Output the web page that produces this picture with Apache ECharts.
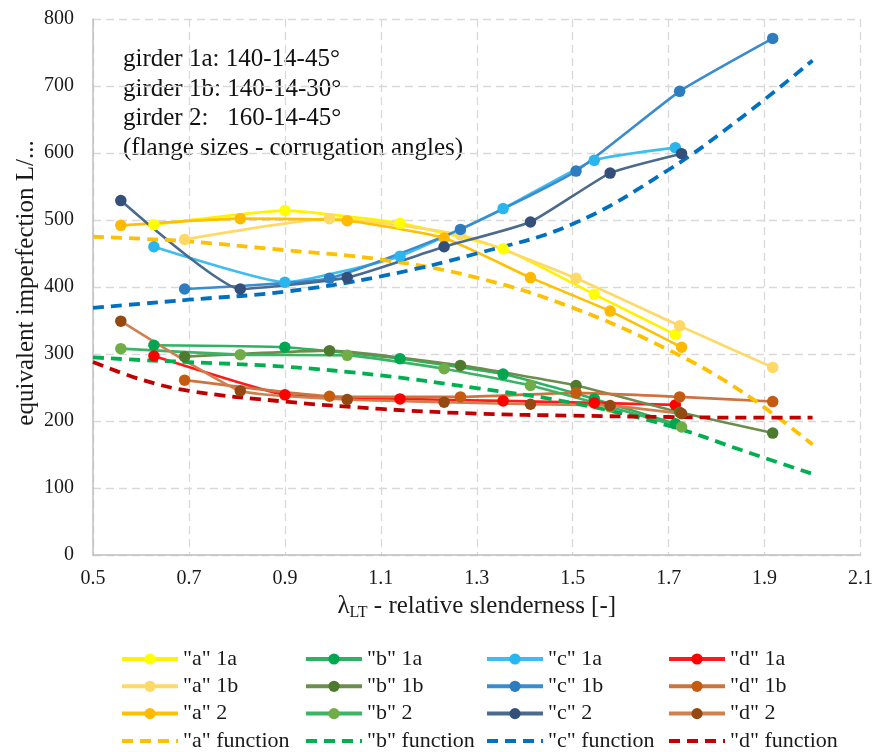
<!DOCTYPE html>
<html><head><meta charset="utf-8">
<script src="https://cdn.jsdelivr.net/npm/echarts@6/dist/echarts.min.js"></script>
<style>html,body{margin:0;padding:0;background:#fff}#c{width:876px;height:752px}</style>
</head><body><div id="c"></div><script>
// x values (relative slenderness) per girder
const x1a = [0.627, 0.900, 1.140, 1.355, 1.545, 1.714];
const x1b = [0.691, 0.993, 1.266, 1.507, 1.723, 1.917];
const x2  = [0.558, 0.807, 1.030, 1.232, 1.412, 1.578, 1.727];
// equivalent imperfection L/... values
const a1a = [493, 514, 495, 457, 389, 329];
const b1a = [313, 310, 293, 270, 233, 196];
const c1a = [460, 407, 446, 517, 589, 608];
const d1a = [297, 239, 233, 230, 227, 224];
const a1b = [471, 502, 478, 413, 342, 280];
const b1b = [296, 305, 283, 253, 213, 182];
const c1b = [397, 413, 486, 573, 692, 771];
const d1b = [261, 237, 236, 242, 236, 229];
const a2  = [492, 502, 499, 473, 414, 364, 310];
const b2  = [308, 299, 298, 278, 253, 221, 191];
const c2  = [529, 397, 414, 460, 497, 570, 599];
const d2  = [349, 245, 232, 228, 225, 223, 211];
// fitted functions
const xf = [0.5, 0.6, 0.7, 0.9, 1.1, 1.3, 1.5, 1.7, 1.85, 2.0];
const aF = [475, 472, 468, 455, 441, 414, 369, 306, 245, 165];
const bF = [295, 291, 288, 281, 268, 249, 227, 193, 157, 121];
const cF = [369, 375, 381, 393, 416, 450, 494, 575, 652, 738];
const dF = [288, 262, 245, 229, 218, 211, 208, 206, 205, 205];
// axis ticks
const xTicks = {min: 0.5, max: 2.1, step: 0.2};
const yTicks = {min: 0, max: 800, step: 100};
const yTitle = 'equivalent imperfection L/...';
const notes = ['girder 1a: 140-14-45°', 'girder 1b: 140-14-30°', 'girder 2:   160-14-45°', '(flange sizes - corrugation angles)'];

const SERIF = '"Liberation Serif", "Times New Roman", serif';
const pair = (xs, ys) => xs.map((x, i) => [x, ys[i]]);

function dataSeries(name, xs, ys, lineColor, markerColor) {
  return {
    name, type: 'line', data: pair(xs, ys), symbol: 'circle', symbolSize: 11.5,
    smooth: 0.15, lineStyle: {color: lineColor, width: 2.6},
    itemStyle: {color: markerColor}, emphasis: {disabled: true}
  };
}
function funcSeries(name, ys, color) {
  return {
    name, type: 'line', data: pair(xf, ys), symbol: 'none', showSymbol: false,
    smooth: 0.4, lineStyle: {color, width: 3.8, type: [11, 7]},
    itemStyle: {color, opacity: 0}, emphasis: {disabled: true}, z: 3
  };
}

const series = [
  dataSeries('"a" 1a', x1a, a1a, '#FFF200', '#FFFF00'),
  dataSeries('"b" 1a', x1a, b1a, '#2DB263', '#00A651'),
  dataSeries('"c" 1a', x1a, c1a, '#3DBDF0', '#29B5EE'),
  dataSeries('"d" 1a', x1a, d1a, '#FF1A1A', '#FF0000'),
  dataSeries('"a" 1b', x1b, a1b, '#FFD966', '#FFD966'),
  dataSeries('"b" 1b', x1b, b1b, '#6B8E4E', '#4E7A2E'),
  dataSeries('"c" 1b', x1b, c1b, '#3A8BD0', '#2E7CC0'),
  dataSeries('"d" 1b', x1b, d1b, '#CC7440', '#C55A11'),
  dataSeries('"a" 2', x2, a2, '#FFC000', '#FFBA00'),
  dataSeries('"b" 2', x2, b2, '#3DB366', '#70AD47'),
  dataSeries('"c" 2', x2, c2, '#4B6A8E', '#34507A'),
  dataSeries('"d" 2', x2, d2, '#D08050', '#944812'),
  funcSeries('"a" function', aF, '#FFC000'),
  funcSeries('"b" function', bF, '#00B050'),
  funcSeries('"c" function', cF, '#0070C0'),
  funcSeries('"d" function', dF, '#C00000')
];

const legendText = {fontFamily: SERIF, fontSize: 22, color: '#1a1a1a', lineHeight: 20};
function col(left, names) {
  return {orient: 'vertical', left, top: 648, height: 120, padding: 0, itemWidth: 56, itemHeight: 14, itemGap: 5.3,
    data: names, textStyle: legendText, selectedMode: false, lineStyle: {width: 4}};
}

const chart = echarts.init(document.getElementById('c'), null, {renderer: 'canvas'});
chart.setOption({
  animation: false,
  backgroundColor: '#fff',
  grid: {left: 93, right: 12, top: 19, bottom: 197, containLabel: false},
  xAxis: {
    type: 'value', min: xTicks.min, max: xTicks.max, interval: xTicks.step,
    axisLine: {show: true, lineStyle: {color: '#BFBFBF', width: 1.5}},
    axisTick: {show: false},
    axisLabel: {fontFamily: SERIF, fontSize: 20, color: '#1a1a1a', margin: 14,
      formatter: v => v.toFixed(1)},
    splitLine: {show: true, lineStyle: {color: '#D9D9D9', type: [8, 5], width: 1.3}},
    name: '{l|λ}{s|LT}{n| - relative slenderness [-]}',
    nameLocation: 'middle', nameGap: 39,
    nameTextStyle: {rich: {
      l: {fontFamily: SERIF, fontSize: 25, color: '#1a1a1a', lineHeight: 27, padding: [0,0,3,0], verticalAlign: 'top'},
      s: {fontFamily: SERIF, fontSize: 16, color: '#1a1a1a', lineHeight: 16, verticalAlign: 'bottom'},
      n: {fontFamily: SERIF, fontSize: 25, color: '#1a1a1a', lineHeight: 27, padding: [0,0,3,0], verticalAlign: 'top'}
    }}
  },
  yAxis: {
    type: 'value', min: yTicks.min, max: yTicks.max, interval: yTicks.step,
    axisLine: {show: true, lineStyle: {color: '#BFBFBF', width: 1.5}},
    axisTick: {show: false},
    axisLabel: {fontFamily: SERIF, fontSize: 20, color: '#1a1a1a', margin: 19},
    splitLine: {show: true, lineStyle: {color: '#D9D9D9', type: [8, 5], width: 1.3}}
  },
  legend: [
    col(120, ['"a" 1a', '"a" 1b', '"a" 2', '"a" function']),
    col(304, ['"b" 1a', '"b" 1b', '"b" 2', '"b" function']),
    col(485, ['"c" 1a', '"c" 1b', '"c" 2', '"c" function']),
    col(667, ['"d" 1a', '"d" 1b', '"d" 2', '"d" function'])
  ],
  graphic: [
    {type: 'text', x: 26, y: 283, rotation: Math.PI / 2,
      style: {text: yTitle, font: '25px ' + SERIF, fill: '#1a1a1a', align: 'center', verticalAlign: 'middle'}},
    {type: 'text', x: 123, y: 45,
      style: {text: notes.join('\n'), font: '25px ' + SERIF, fill: '#111', lineHeight: 29.5}}
  ],
  series
});
</script></body></html>
